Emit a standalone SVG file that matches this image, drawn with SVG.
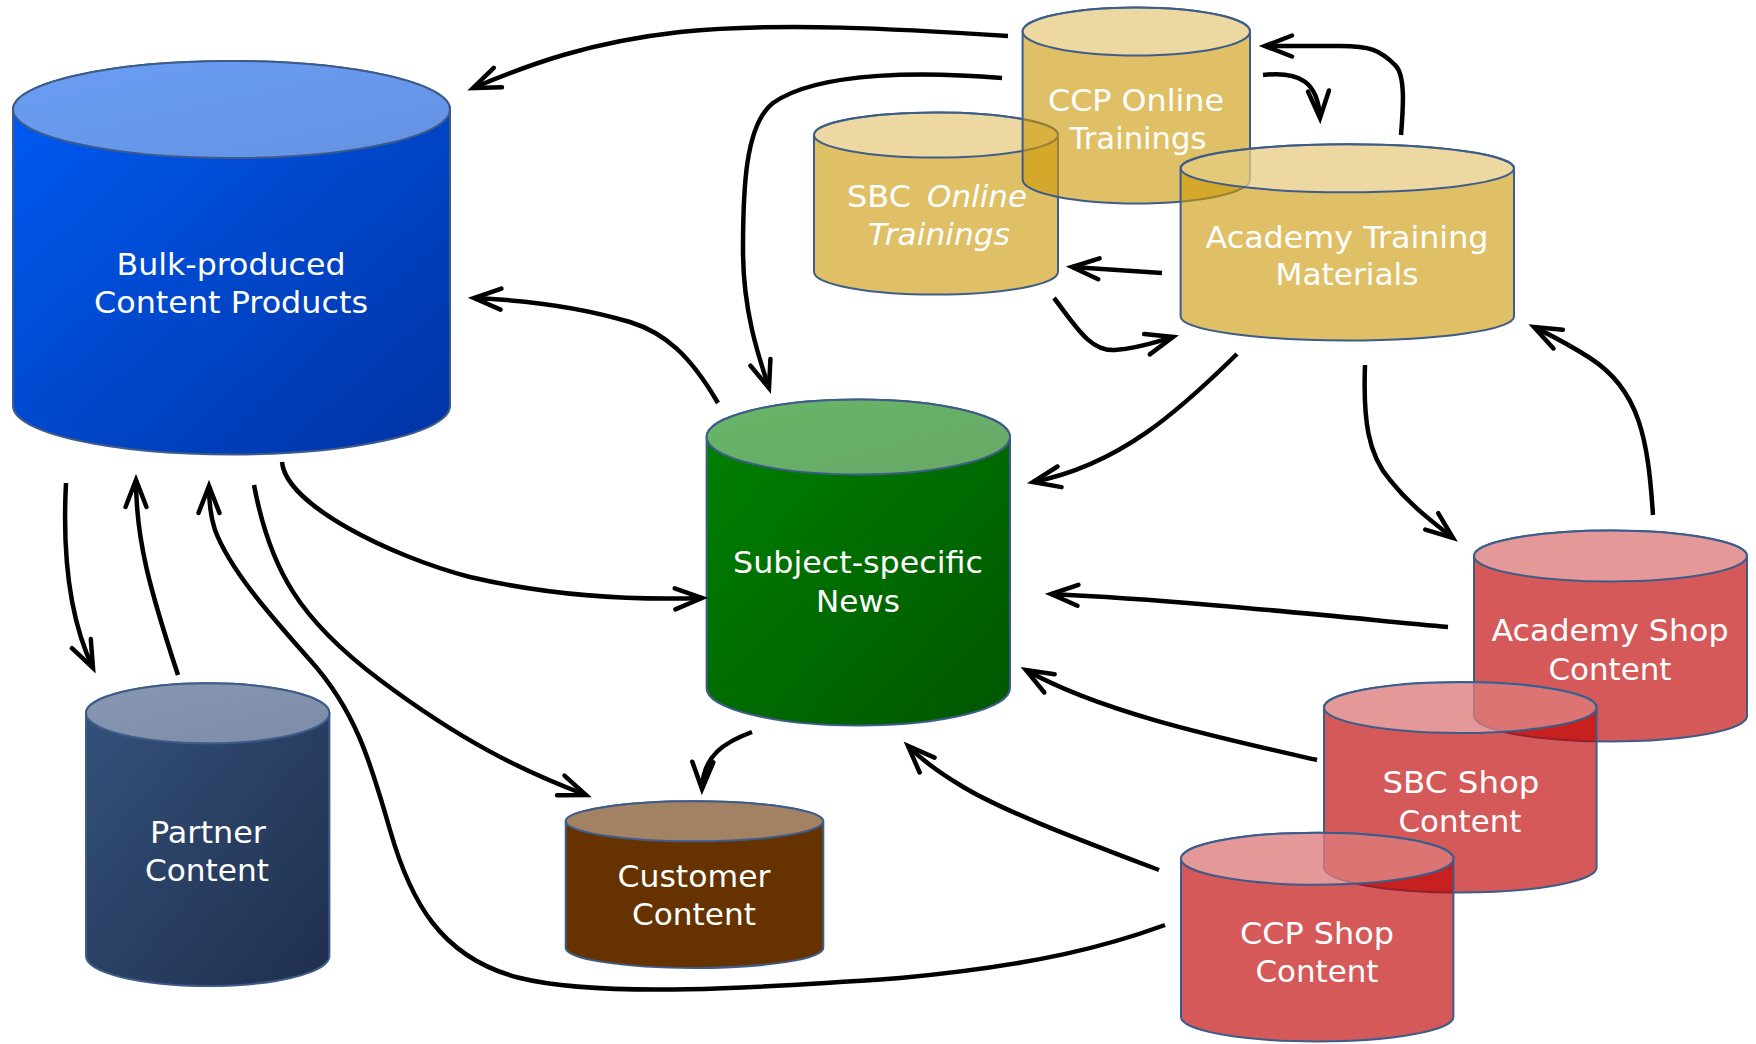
<svg xmlns="http://www.w3.org/2000/svg" width="1756" height="1044" viewBox="0 0 1756 1044">
  <defs>
    <style>
      .edge { fill: none; stroke: #000; stroke-width: 4.5; stroke-linecap: butt; marker-end: url(#arrow); }
      .rim { stroke: #3E5C8A; stroke-width: 2; }
      .lbl { font-family: "DejaVu Sans", "Liberation Sans", sans-serif; font-size: 30px; fill: #FFFFFF; text-anchor: middle; }
      .it { font-style: italic; }
      .gold { fill: #CC9805; fill-opacity: 0.61; }
      .red { fill: #C00000; fill-opacity: 0.65; }
      .lid { fill: #FFFFFF; fill-opacity: 0.38; }
    </style>
    <marker id="arrow" viewBox="-32 -16 36 32" refX="0" refY="0" markerWidth="36" markerHeight="32" markerUnits="userSpaceOnUse" orient="auto" overflow="visible">
      <path d="M-27,-10.5 L0,0 L-27,10.5" fill="none" stroke="#000" stroke-width="4.5" stroke-linecap="round" stroke-linejoin="miter"/>
    </marker>
    <linearGradient id="gBlue" x1="0" y1="0" x2="1" y2="1">
      <stop offset="0" stop-color="#005CF6"/>
      <stop offset="1" stop-color="#0033A2"/>
    </linearGradient>
    <linearGradient id="gBlueTop" x1="0" y1="0" x2="1" y2="1">
      <stop offset="0" stop-color="#6A9EF4"/>
      <stop offset="1" stop-color="#6492E2"/>
    </linearGradient>
    <linearGradient id="gGreen" x1="0" y1="0" x2="1" y2="1">
      <stop offset="0" stop-color="#008200"/>
      <stop offset="1" stop-color="#005600"/>
    </linearGradient>
    <linearGradient id="gGreenTop" x1="0" y1="0" x2="1" y2="1">
      <stop offset="0" stop-color="#69B669"/>
      <stop offset="1" stop-color="#66A866"/>
    </linearGradient>
    <linearGradient id="gNavy" x1="0" y1="0" x2="1" y2="1">
      <stop offset="0" stop-color="#35527D"/>
      <stop offset="1" stop-color="#1F2F4C"/>
    </linearGradient>
    <linearGradient id="gNavyTop" x1="0" y1="0" x2="1" y2="1">
      <stop offset="0" stop-color="#8898B3"/>
      <stop offset="1" stop-color="#7C8CA7"/>
    </linearGradient>
  </defs>

  <rect width="1756" height="1044" fill="#FFFFFF"/>

  <!-- Bulk-produced Content Products -->
  <g id="bulk">
    <path class="rim" fill="url(#gBlue)" d="M13,109.5 L13,406 A218.5,48.5 0 0 0 450,406 L450,109.5 A218.5,48.5 0 0 0 13,109.5 Z"/>
    <ellipse class="rim" fill="url(#gBlueTop)" cx="231.5" cy="109.5" rx="218.5" ry="48.5"/>
    <text class="lbl" style="font-size:31px" x="231" y="275" textLength="229" lengthAdjust="spacingAndGlyphs">Bulk-produced</text>
    <text class="lbl" style="font-size:31px" x="231" y="313" textLength="274" lengthAdjust="spacingAndGlyphs">Content Products</text>
  </g>

  <!-- Subject-specific News -->
  <g id="news">
    <path class="rim" fill="url(#gGreen)" d="M706.6,437 L706.6,688 A151.7,37.5 0 0 0 1010,688 L1010,437 A151.7,37.5 0 0 0 706.6,437 Z"/>
    <ellipse class="rim" fill="url(#gGreenTop)" cx="858.3" cy="437" rx="151.7" ry="37.5"/>
    <text class="lbl" x="858" y="573" textLength="250" lengthAdjust="spacingAndGlyphs">Subject-specific</text>
    <text class="lbl" x="858" y="612" textLength="84" lengthAdjust="spacingAndGlyphs">News</text>
  </g>

  <!-- Partner Content -->
  <g id="partner">
    <path class="rim" fill="url(#gNavy)" d="M86,713.3 L86,956 A121.7,30 0 0 0 329.4,956 L329.4,713.3 A121.7,30 0 0 0 86,713.3 Z"/>
    <ellipse class="rim" fill="url(#gNavyTop)" cx="207.7" cy="713.3" rx="121.7" ry="30"/>
    <text class="lbl" x="208" y="843" textLength="116" lengthAdjust="spacingAndGlyphs">Partner</text>
    <text class="lbl" x="207" y="881" textLength="124" lengthAdjust="spacingAndGlyphs">Content</text>
  </g>

  <!-- Customer Content -->
  <g id="customer">
    <path class="rim" fill="#663300" d="M565.7,821.3 L565.7,948 A128.8,20 0 0 0 823.3,948 L823.3,821.3 A128.8,20 0 0 0 565.7,821.3 Z"/>
    <ellipse class="rim" fill="#A38264" cx="694.5" cy="821.3" rx="128.8" ry="20"/>
    <text class="lbl" x="694" y="887" textLength="153" lengthAdjust="spacingAndGlyphs">Customer</text>
    <text class="lbl" x="694" y="925" textLength="124" lengthAdjust="spacingAndGlyphs">Content</text>
  </g>

  <!-- SBC Online Trainings -->
  <g id="sbc-online">
    <path class="rim gold" d="M814,135 L814,272 A122,22.5 0 0 0 1058,272 L1058,135 A122,22.5 0 0 0 814,135 Z"/>
    <ellipse class="rim lid" cx="936" cy="135" rx="122" ry="22.5"/>
    <text class="lbl" style="text-anchor:start" y="207"><tspan x="847" textLength="64" lengthAdjust="spacingAndGlyphs">SBC</tspan><tspan class="it" x="927" textLength="100" lengthAdjust="spacingAndGlyphs">Online</tspan></text>
    <text class="lbl it" x="939" y="245" textLength="142" lengthAdjust="spacingAndGlyphs">Trainings</text>
  </g>

  <!-- CCP Online Trainings -->
  <g id="ccp-online">
    <path class="rim gold" d="M1022.6,31.5 L1022.6,179.5 A113.7,24 0 0 0 1250,179.5 L1250,31.5 A113.7,24 0 0 0 1022.6,31.5 Z"/>
    <ellipse class="rim lid" cx="1136.3" cy="31.5" rx="113.7" ry="24"/>
    <text class="lbl" x="1136" y="111" textLength="176" lengthAdjust="spacingAndGlyphs">CCP Online</text>
    <text class="lbl" x="1138" y="149" textLength="137" lengthAdjust="spacingAndGlyphs">Trainings</text>
  </g>

  <!-- Academy Training Materials -->
  <g id="academy-training">
    <path class="rim gold" d="M1180.6,168.3 L1180.6,316.5 A166.7,24 0 0 0 1514,316.5 L1514,168.3 A166.7,24 0 0 0 1180.6,168.3 Z"/>
    <ellipse class="rim lid" cx="1347.3" cy="168.3" rx="166.7" ry="24"/>
    <text class="lbl" style="font-size:31px" x="1347" y="248" textLength="283" lengthAdjust="spacingAndGlyphs">Academy Training</text>
    <text class="lbl" style="font-size:31px" x="1347" y="285" textLength="143" lengthAdjust="spacingAndGlyphs">Materials</text>
  </g>

  <!-- Academy Shop Content -->
  <g id="academy-shop">
    <path class="rim red" d="M1474,556 L1474,716 A136.5,25.5 0 0 0 1747,716 L1747,556 A136.5,25.5 0 0 0 1474,556 Z"/>
    <ellipse class="rim lid" cx="1610.5" cy="556" rx="136.5" ry="25.5"/>
    <text class="lbl" x="1610" y="641" textLength="237" lengthAdjust="spacingAndGlyphs">Academy Shop</text>
    <text class="lbl" x="1610" y="680" textLength="123" lengthAdjust="spacingAndGlyphs">Content</text>
  </g>

  <!-- SBC Shop Content -->
  <g id="sbc-shop">
    <path class="rim red" d="M1324,707.5 L1324,867.5 A136.3,25 0 0 0 1596.6,867.5 L1596.6,707.5 A136.3,25 0 0 0 1324,707.5 Z"/>
    <ellipse class="rim lid" cx="1460.3" cy="707.5" rx="136.3" ry="25.5"/>
    <text class="lbl" x="1461" y="793" textLength="157" lengthAdjust="spacingAndGlyphs">SBC Shop</text>
    <text class="lbl" x="1460" y="832" textLength="123" lengthAdjust="spacingAndGlyphs">Content</text>
  </g>

  <!-- CCP Shop Content -->
  <g id="ccp-shop">
    <path class="rim red" d="M1181,858.7 L1181,1017 A136.2,24.5 0 0 0 1453.4,1017 L1453.4,858.7 A136.2,26 0 0 0 1181,858.7 Z"/>
    <ellipse class="rim lid" cx="1317.2" cy="858.7" rx="136.2" ry="26"/>
    <text class="lbl" x="1317" y="944" textLength="154" lengthAdjust="spacingAndGlyphs">CCP Shop</text>
    <text class="lbl" x="1317" y="982" textLength="123" lengthAdjust="spacingAndGlyphs">Content</text>
  </g>

  <!-- Flows between the content stores -->
  <g id="connectors">
    <path class="edge" d="M1008,36 C 900,29 780,22 680,32 C 590,42 530,64 473,88"/>
    <path class="edge" d="M1002,78 C 930,72 820,70 773,103 C 745,125 743,190 743,250 C 743,310 758,355 769,388"/>
    <path class="edge" d="M718,403 C 690,355 665,333 630,322 C 580,307 520,300 474,298"/>
    <path class="edge" d="M282,462 C 286,505 390,556 470,577 C 560,598 640,600 702,598"/>
    <path class="edge" d="M66,483 C 62,560 70,620 93,668"/>
    <path class="edge" d="M178,675 C 150,590 136,540 136,480"/>
    <path class="edge" d="M1165,925 C 1110,945 1040,965 900,978 C 760,988 600,998 520,978 C 440,958 410,900 390,830 C 370,760 355,710 310,660 C 270,615 230,570 215,530 C 210,515 209,500 209,486"/>
    <path class="edge" d="M254,485 C 270,570 300,620 380,680 C 460,740 520,770 586,795"/>
    <path class="edge" d="M752,732 C 725,742 703,755 702,789"/>
    <path class="edge" d="M1317,760 C 1220,738 1100,712 1026,670"/>
    <path class="edge" d="M1448,627 C 1330,616 1180,600 1051,594"/>
    <path class="edge" d="M1159,870 C 1080,840 1000,810 960,785 C 935,770 920,758 908,746"/>
    <path class="edge" d="M1237,354 C 1180,410 1120,465 1033,482"/>
    <path class="edge" d="M1162,273 L1072,267"/>
    <path class="edge" d="M1054,298 C 1075,325 1090,352 1115,350 C 1140,348 1155,342 1173,337"/>
    <path class="edge" d="M1263,75 C 1300,71 1318,82 1320,118"/>
    <path class="edge" d="M1401,135 C 1403,110 1406,75 1395,65 C 1380,50 1370,46 1340,46 L1265,46"/>
    <path class="edge" d="M1365,365 C 1363,420 1368,455 1390,480 C 1410,505 1430,520 1453,538"/>
    <path class="edge" d="M1653,515 C 1648,440 1640,390 1590,358 C 1565,342 1550,335 1534,327"/>
  </g>
</svg>
